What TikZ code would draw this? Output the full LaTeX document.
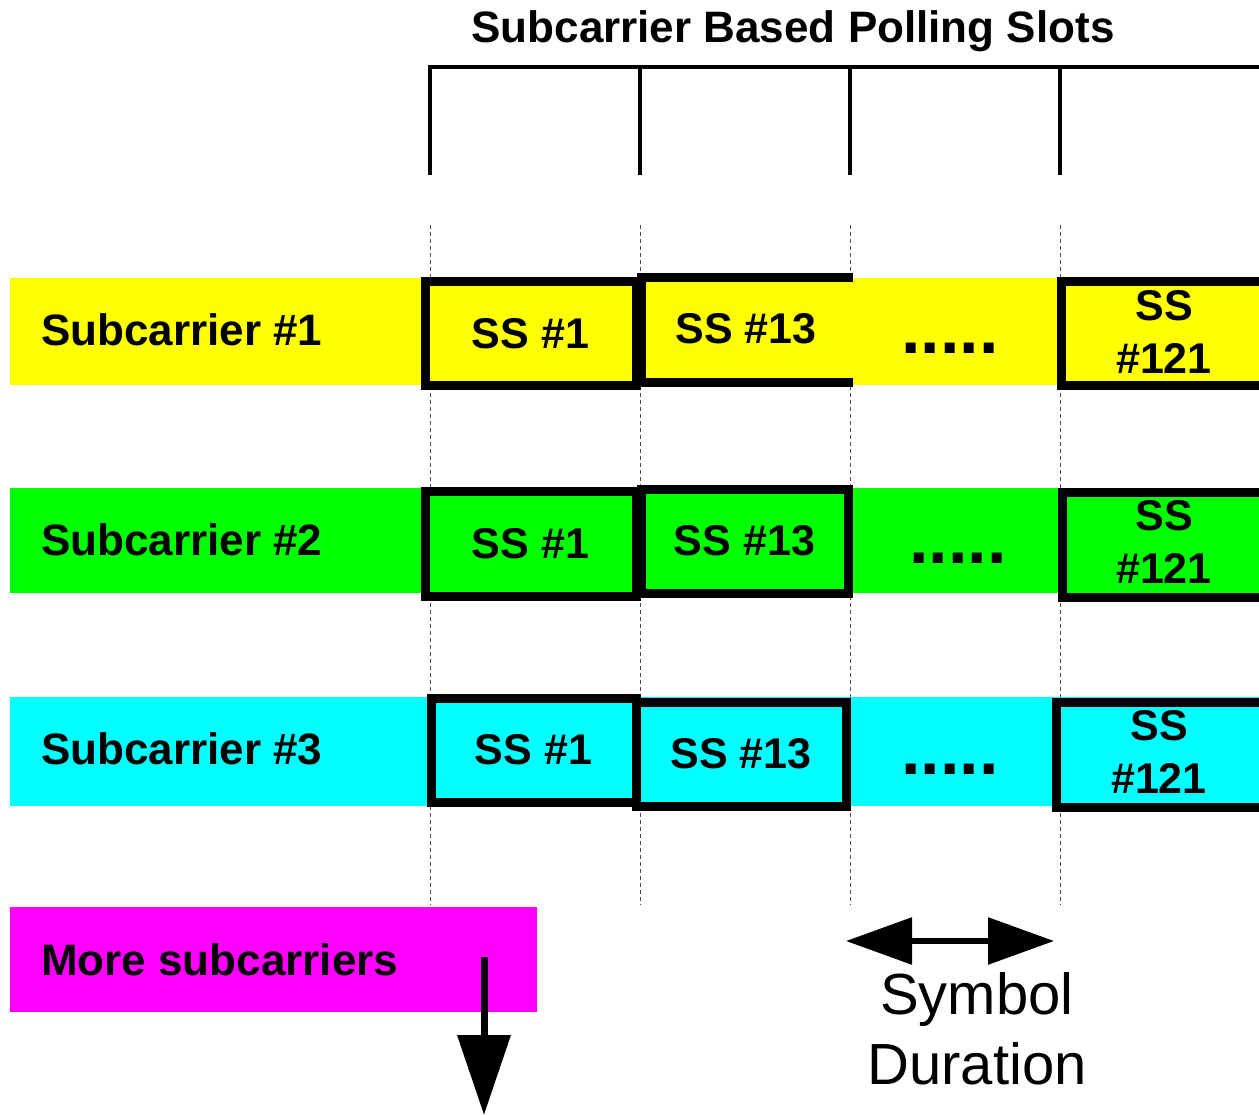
\documentclass[tikz,border=0pt]{standalone}
\usepackage{fontspec}
\setmainfont{Liberation Sans}
\usetikzlibrary{arrows.meta}
\definecolor{bandyellow}{RGB}{255,255,0}
\definecolor{bandgreen}{RGB}{0,255,0}
\definecolor{bandcyan}{RGB}{0,255,255}
\definecolor{bandmagenta}{RGB}{255,0,255}
\begin{document}
\begin{tikzpicture}
        [x=1pt,y=-1pt,
         lbl/.style={inner sep=0pt,font=\fontsize{44}{50}\selectfont\bfseries},
         sslbl/.style={inner sep=0pt,align=center,font=\fontsize{43}{53}\selectfont\bfseries},
         dots/.style={inner sep=0pt,anchor=base,font=\fontsize{70}{80}\selectfont\bfseries},
         slot/.style={line width=9pt},
         slotline/.style={line width=4pt},
         guide/.style={dash pattern=on 4pt off 3pt,line width=0.8pt,black!70}]
        \useasboundingbox (0,0) rectangle (1259,1115);

        % title and slot bracket
        \node[lbl] (title) at (793,31) {Subcarrier Based Polling Slots};
        \draw[slotline] (430,175) -- (430,67) -- (1270,67);
        \foreach \x in {640,850,1060}
        {\draw[slotline] (\x,67) -- (\x,175);}

        \foreach \x in {430,640,850,1060}
        {\draw[guide] (\x,225) -- (\x,905);}

        % subcarrier bands
        \fill[bandyellow] (10,278) rectangle (1270,385);
        \fill[bandgreen] (10,488) rectangle (1270,593);
        \fill[bandcyan] (10,697) rectangle (1270,806);
        \fill[bandmagenta] (10,907) rectangle (537,1012);

        \node[lbl,anchor=west] (sc1) at (41,330) {Subcarrier \#1};
        \node[lbl,anchor=west] (sc2) at (41,540) {Subcarrier \#2};
        \node[lbl,anchor=west] (sc3) at (41,749) {Subcarrier \#3};
        \node[lbl,anchor=west] (more) at (41,960) {More subcarriers};

        % subcarrier #1
        \draw[slot] (425,282) rectangle (636,386) node[midway,sslbl] (ssa1) {SS \#1};
        \draw[slot] (853,278) -- (641,278) -- (641,383) -- (853,383);
        \node[sslbl] (ssa13) at (746,329) {SS \#13};
        \node[dots] (dotsa) at (950,354) {.....};
        \draw[slot] (1061,282) rectangle (1280,386);
        \node[sslbl] (ssa121) at (1164,332) {SS\\\#121};

        % subcarrier #2
        \draw[slot] (425,491) rectangle (636,596) node[midway,sslbl] (ssb1) {SS \#1};
        \draw[slot] (641,489) rectangle (848,593) node[midway,sslbl] (ssb13) {SS \#13};
        \node[dots] (dotsb) at (958,563) {.....};
        \draw[slot] (1062,492) rectangle (1280,597);
        \node[sslbl] (ssb121) at (1164,542) {SS\\\#121};

        % subcarrier #3
        \draw[slot] (431,698) rectangle (636,802) node[midway,sslbl] (ssc1) {SS \#1};
        \draw[slot] (636,702) rectangle (846,806) node[midway,sslbl] (ssc13) {SS \#13};
        \node[dots] (dotsc) at (950,774) {.....};
        \draw[slot] (1056,702) rectangle (1280,807);
        \node[sslbl] (ssc121) at (1159,752) {SS\\\#121};

        % arrows
        \coordinate (moretail) at (484,957);
        \coordinate (moretip) at (484,1115);
        \draw[line width=7pt,-{Triangle[length=80pt,width=52pt]}] (moretail) -- (moretip);

        \coordinate (symleft) at (846,941);
        \coordinate (symright) at (1054,941);
        \draw[line width=6pt,{Triangle[length=66pt,width=46pt]}-{Triangle[length=66pt,width=46pt]}] (symleft) -- (symright);
        \node[inner sep=0pt,align=center,font=\fontsize{58}{70}\selectfont] (symdur) at (977,1029) {Symbol\\Duration};
      \end{tikzpicture}
\end{document}
